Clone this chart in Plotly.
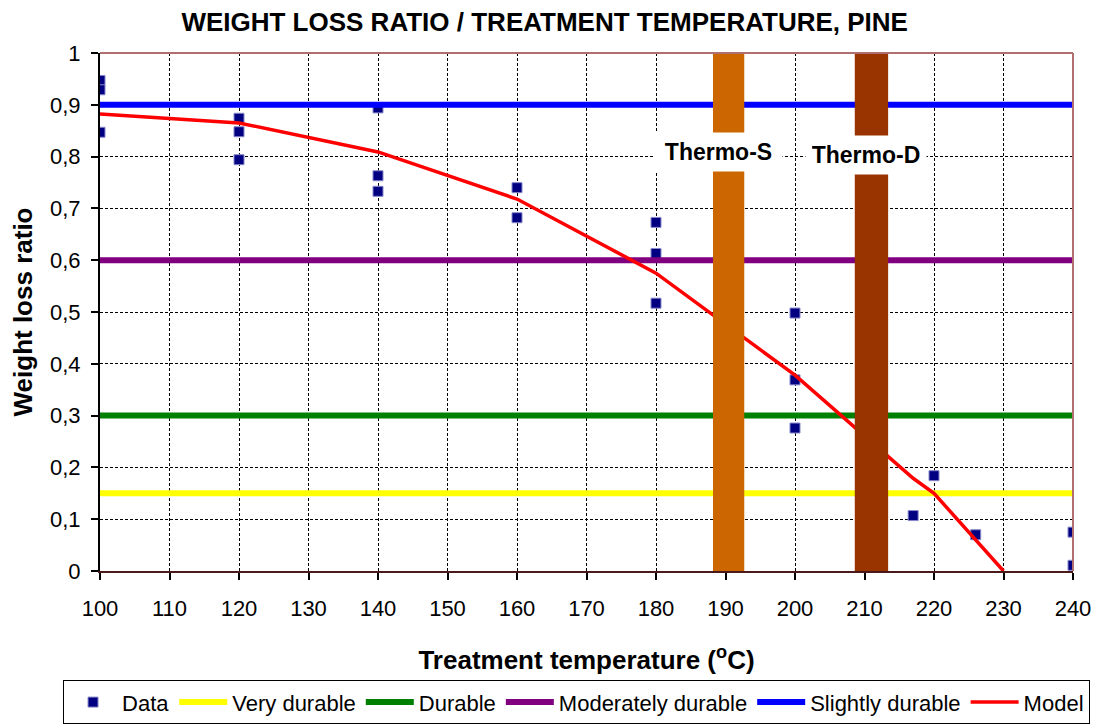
import plotly.graph_objects as go

# ---- data ----
data_x = [100, 100, 100, 120, 120, 120, 140, 140, 140, 160, 160,
          180, 180, 180, 200, 200, 200, 217, 220, 226, 240, 240]
data_y = [0.947, 0.929, 0.847, 0.874, 0.848, 0.794, 0.894, 0.763, 0.733, 0.740, 0.682,
          0.673, 0.613, 0.517, 0.498, 0.369, 0.276, 0.107, 0.184, 0.070, 0.075, 0.011]

model_x = [100, 120, 140, 160, 180, 200, 217, 220, 230]
model_y = [0.882, 0.865, 0.809, 0.718, 0.575, 0.378, 0.179, 0.150, 0.0]

x_range = [100, 240]
class_names = ["Very durable", "Durable", "Moderately durable", "Slightly durable"]
class_levels = [0.15, 0.30, 0.60, 0.90]
class_colors = ["#FFFF00", "#008000", "#800080", "#0000FF"]

bar_names = ["Thermo-S", "Thermo-D"]
bar_centers = [190.45, 211.0]
bar_widths = [4.5, 4.8]
bar_tops = [1.0, 1.0]
bar_colors = ["#CC6600", "#993300"]
label_x = [189.0, 210.2]
label_y = [0.808, 0.804]
label_w = [115, 108]

fig = go.Figure()

fig.add_trace(go.Scatter(
    x=data_x, y=data_y, mode="markers", name="Data",
    marker=dict(symbol="square", size=10, color="#000080",
                line=dict(color="#8888CC", width=1)),
))
for name, lvl, col in zip(class_names, class_levels, class_colors):
    fig.add_trace(go.Scatter(
        x=x_range, y=[lvl, lvl], mode="lines", name=name,
        line=dict(color=col, width=6),
    ))
fig.add_trace(go.Scatter(
    x=model_x, y=model_y, mode="lines", name="Model",
    line=dict(color="#FF0000", width=3.5),
))
# vertical bars (drawn above the lines)
for c, w, t, col in zip(bar_centers, bar_widths, bar_tops, bar_colors):
    x0, x1 = c - w / 2, c + w / 2
    fig.add_trace(go.Scatter(
        x=[x0, x1, x1, x0, x0], y=[0, 0, t, t, 0], mode="lines",
        fill="toself", fillcolor=col, line=dict(width=0, color=col),
        showlegend=False, hoverinfo="skip",
    ))

for txt, lx, ly, lw in zip(bar_names, label_x, label_y, label_w):
    fig.add_annotation(
        x=lx, y=ly, xref="x", yref="y", text="<b>%s</b>" % txt,
        showarrow=False, bgcolor="white", width=lw, height=26, borderpad=6,
        font=dict(family="Liberation Sans, Arial", size=23, color="black"),
    )

# top & right border
fig.add_shape(type="line", xref="paper", yref="paper", x0=0, x1=1, y0=1, y1=1,
              line=dict(color="#B07070", width=2))
fig.add_shape(type="line", xref="paper", yref="paper", x0=1, x1=1, y0=0, y1=1,
              line=dict(color="#B07070", width=2))

fig.update_layout(
    width=1100, height=728,
    margin=dict(l=92, r=35, t=45, b=161),
    paper_bgcolor="white", plot_bgcolor="white",
    separators=", ",
    font=dict(family="Liberation Sans, Arial", color="black", size=22),
    title=dict(text="<b>WEIGHT LOSS RATIO / TREATMENT TEMPERATURE, PINE</b>",
               x=0.457, xref="paper", xanchor="center", y=0.981, yanchor="middle",
               font=dict(size=26)),
    xaxis=dict(range=x_range, dtick=10, tick0=100, showgrid=True,
               gridcolor="black", gridwidth=1, griddash="3px,2px",
               showline=True, linecolor="#4A1A1A", linewidth=2,
               ticks="outside", ticklen=7, tickwidth=2, tickcolor="black",
               tickfont=dict(size=22), zeroline=False, ticklabelstandoff=10,
               title=dict(text="<b>Treatment temperature (<sup>o</sup>C)</b>",
                          font=dict(size=26), standoff=30)),
    yaxis=dict(range=[0, 1], dtick=0.1, tick0=0, showgrid=True,
               gridcolor="black", gridwidth=1, griddash="3px,2px",
               showline=True, linecolor="black", linewidth=2,
               ticks="outside", ticklen=7, tickwidth=2, tickcolor="black",
               tickfont=dict(size=22), zeroline=False, ticklabelstandoff=6,
               title=dict(text="<b>Weight loss ratio</b>", font=dict(size=26),
                          standoff=12)),
    legend=dict(orientation="h", x=-0.038, xanchor="left", y=-0.211, yanchor="top",
                bordercolor="black", borderwidth=1, bgcolor="white",
                font=dict(size=22), traceorder="normal", itemwidth=48),
)

fig.write_html("out.html")
